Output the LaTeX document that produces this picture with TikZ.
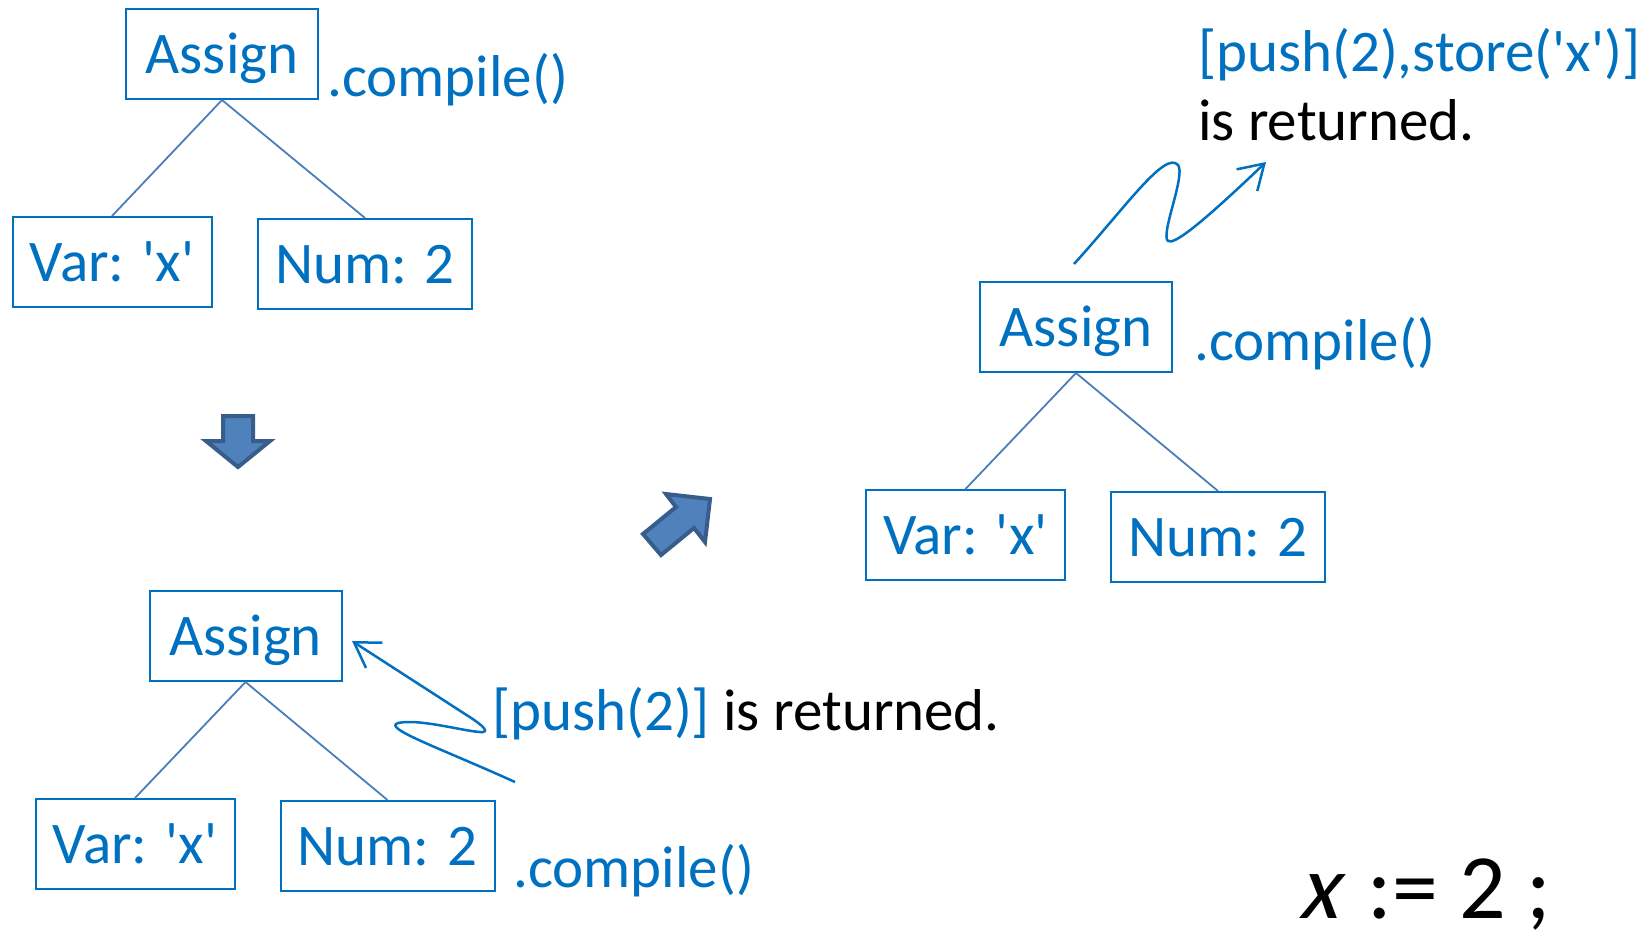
\documentclass[tikz,border=0pt]{standalone}
\usepackage{fontspec}
\newfontfamily\calibri{Carlito}
\newfontfamily\calibrit{Carlito}[FakeSlant=0.22]
\usetikzlibrary{arrows.meta}
\definecolor{ublue}{HTML}{0070C0}
\definecolor{lblue}{HTML}{4A7EBB}
\definecolor{afill}{HTML}{4F81BD}
\definecolor{aedge}{HTML}{385D8A}
\begin{document}
\begin{tikzpicture}[x=1pt,y=-1pt,
  tbox/.style={draw=ublue, line width=2pt, text=ublue, font=\calibri\fontsize{59}{70}\selectfont,
    inner sep=0pt, text height=38pt, text depth=0pt, minimum height=90pt},
  abox/.style={tbox, minimum width=192pt},
  vbox/.style={tbox, minimum width=199pt},
  nbox/.style={tbox, minimum width=214pt},
  lbl/.style={inner sep=0pt, anchor=base west, font=\calibri\fontsize{59}{70}\selectfont},
  bluelbl/.style={lbl, text=ublue},
  edge/.style={draw=lblue, line width=1.8pt},
  curvy/.style={draw=ublue, line width=2.5pt, -{Straight Barb[length=24pt,width=30pt]}},
  blk/.style={fill=afill, draw=aedge, line width=4pt, line join=miter}]
\useasboundingbox (0,0) rectangle (1648,938);

% top-left tree
\node[abox] (A1) at (222,54) {Assign};
\node[vbox] (V1) at (112,262) {Var: \symbol{39}x\symbol{39}};
\node[nbox] (N1) at (365,264) {Num: 2};
\node[bluelbl] (C1) at (327,96) {.compile()};
\draw[edge] (A1.south) -- (V1.north);
\draw[edge] (A1.south) -- (N1.north);

% down block arrow
\draw[blk] (223,416) -- (253,416) -- (253,441) -- (270,441) -- (238,467) -- (206,441) -- (223,441) -- cycle;

% bottom-left tree
\node[abox] (A2) at (245.5,636) {Assign};
\node[vbox] (V2) at (135,844) {Var: \symbol{39}x\symbol{39}};
\node[nbox] (N2) at (387.5,846) {Num: 2};
\node[bluelbl] (C2) at (513,887) {.compile()};
\draw[edge] (A2.south) -- (V2.north);
\draw[edge] (A2.south) -- (N2.north);
\node[lbl] (R2) at (492,730) {\textcolor{ublue}{[push(2)]} is returned.};
\coordinate (r2s) at (515,782);
\coordinate (r2e) at (352,641);
\draw[curvy] (r2s) .. controls (440,748) and (382,728) .. (398,723)
  .. controls (420,718) and (470,733) .. (483,732)
  .. controls (490,731) and (478,722) .. (465,714) -- (r2e);

% diagonal block arrow
\draw[blk] (661,555) -- (694,528) -- (705,542) -- (710,499) -- (666,494) -- (676,507) -- (643,534) -- cycle;

% top-right tree
\node[abox] (A3) at (1076,327) {Assign};
\node[vbox] (V3) at (965.5,535) {Var: \symbol{39}x\symbol{39}};
\node[nbox] (N3) at (1218,537) {Num: 2};
\node[bluelbl] (C3) at (1194,360) {.compile()};
\draw[edge] (A3.south) -- (V3.north);
\draw[edge] (A3.south) -- (N3.north);
\node[bluelbl] (R3a) at (1198,71) {[push(2),store(\symbol{39}x\symbol{39})]};
\node[lbl] (R3b) at (1198,140) {is returned.};
\coordinate (r3s) at (1074,264);
\coordinate (r3e) at (1266,162);
\draw[curvy] (r3s) .. controls (1125,208) and (1165,150) .. (1178,165)
  .. controls (1186,175) and (1160,235) .. (1168,241)
  .. controls (1174,245) and (1200,225) .. (r3e);

% statement
\node[lbl, font=\calibri\fontsize{92}{110}\selectfont] (S) at (1298,918) {{\calibrit x}\hspace{9pt} := 2 ;};
\end{tikzpicture}
\end{document}
